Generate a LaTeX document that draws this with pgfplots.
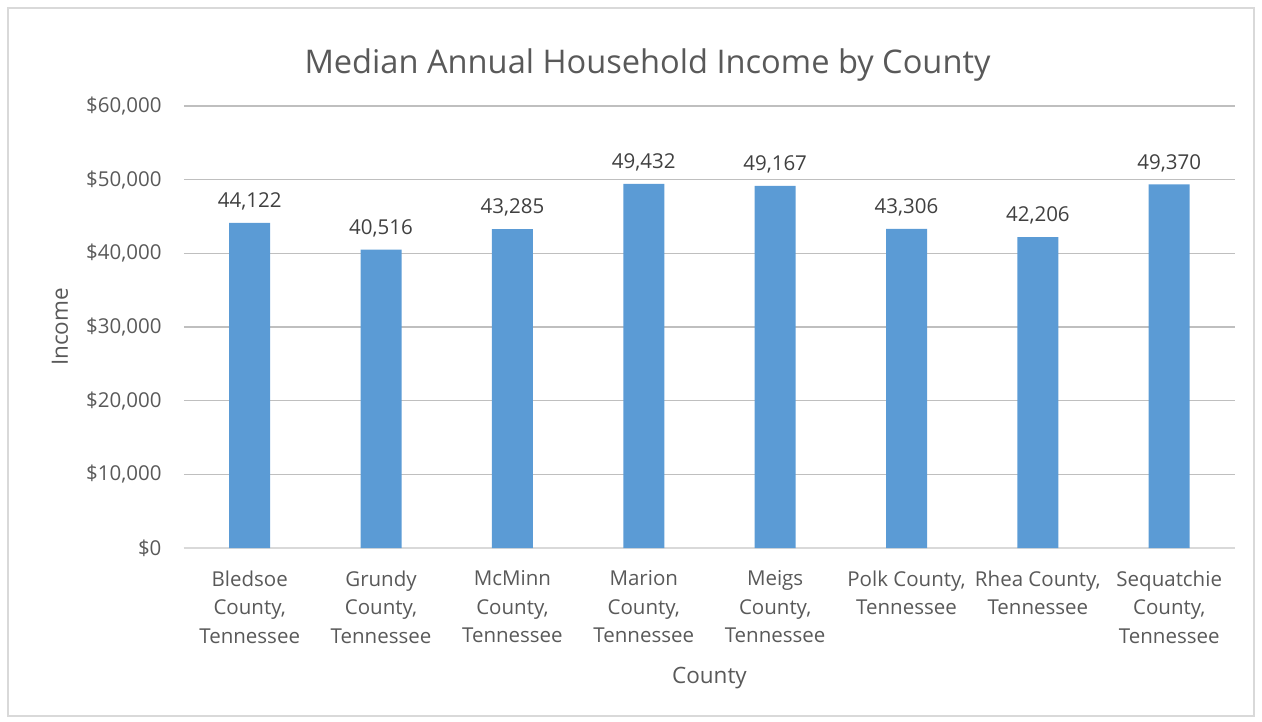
\documentclass[border=0pt]{standalone}
\usepackage{fontspec}
\setmainfont{Open Sans}
\usepackage{pgfplots}
\pgfplotsset{compat=1.18}
\definecolor{barblue}{HTML}{5B9BD5}
\definecolor{txt}{HTML}{595959}
\definecolor{vtxt}{HTML}{404040}
\definecolor{grid}{HTML}{D9D9D9}
\begin{document}
\begin{tikzpicture}
\useasboundingbox (0,0) rectangle (1262pt,721pt);
\draw[grid, line width=1.2pt] (8pt,5pt) rectangle (1254pt,713pt);
\begin{axis}[
  at={(184pt,173pt)}, anchor=south west,
  scale only axis, width=1051pt, height=442pt,
  xmin=-0.5, xmax=7.5, ymin=0, ymax=60000,
  ytick={0,10000,20000,30000,40000,50000,60000},
  scaled y ticks=false,
  xtick={0,1,2,3,4,5,6,7},
  xticklabels={{Bledsoe\\County,\\Tennessee},{Grundy\\County,\\Tennessee},{McMinn\\County,\\Tennessee},{Marion\\County,\\Tennessee},{Meigs\\County,\\Tennessee},{Polk County,\\Tennessee},{Rhea County,\\Tennessee},{Sequatchie\\County,\\Tennessee}},
  xticklabel style={align=center, font=\fontsize{20.5}{28.5}\selectfont, text=txt, anchor=north, yshift=-19pt},
  /pgf/number format/assume math mode=true,
  /pgf/number format/.cd, 1000 sep={,}, /pgfplots/.cd,
  yticklabel={\$\pgfmathprintnumber{\tick}},
  yticklabel style={font=\fontsize{20.5}{24}\selectfont, text=txt, xshift=-19pt},
  major tick length=0pt,
  ymajorgrids, xmajorgrids=false, grid style={grid, line width=1.2pt},
  axis x line*=bottom, axis y line*=left,
  x axis line style={grid, line width=1.2pt, -},
  y axis line style={draw=none},
  ylabel={Income}, xlabel={County},
  ylabel style={at={(axis description cs:0,0.5)}, rotate=0, anchor=center, yshift=124pt, font=\fontsize{22.5}{26}\selectfont, text=txt},
  xlabel style={at={(axis description cs:0.5,0)}, yshift=-130pt, anchor=center, font=\fontsize{22.5}{26}\selectfont, text=txt},
  title={Median Annual Household Income by County},
  title style={at={(axis description cs:0.5,1)}, yshift=35pt, xshift=-62pt, anchor=center, font=\fontsize{32.6}{38}\selectfont, text=txt},
  clip=false,
]
\addplot[ybar, bar width=41pt, fill=barblue, draw=none,
  nodes near coords={\pgfmathprintnumber{\pgfplotspointmeta}},
  nodes near coords style={font=\fontsize{20.5}{24}\selectfont, text=vtxt, anchor=south, yshift=9pt}]
  coordinates {(0,44122) (1,40516) (2,43285) (3,49432) (4,49167) (5,43306) (6,42206) (7,49370)};
\end{axis}
\end{tikzpicture}
\end{document}
